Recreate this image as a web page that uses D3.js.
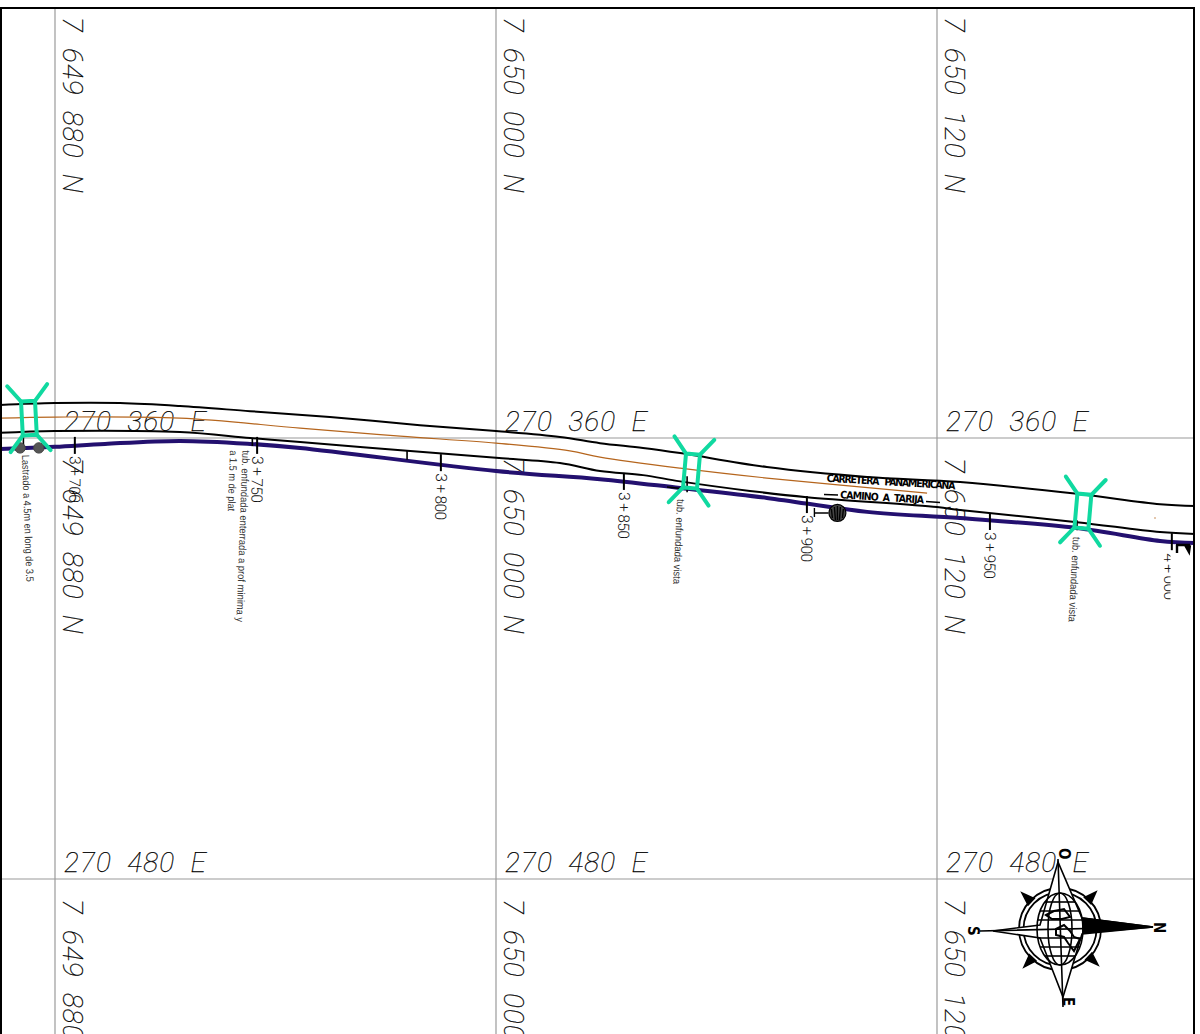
<!DOCTYPE html>
<html>
<head>
<meta charset="utf-8">
<script src="https://cdn.jsdelivr.net/npm/d3@7/dist/d3.min.js"></script>
<style>
  html, body { margin: 0; padding: 0; background: #fff; }
  svg { display: block; }
  text { white-space: pre; }
  .gridLabel { font-family: Roboto, sans-serif; font-weight: 100; font-style: italic; font-size: 28px; fill: #000; stroke: #000; stroke-width: 0.25; }
  .station { font-family: Roboto, sans-serif; font-weight: 300; font-size: 15.5px; fill: #111; }
  .note { font-family: "Liberation Sans", sans-serif; font-size: 10.5px; fill: #333; }
  .roadName { font-family: "DejaVu Sans", sans-serif; font-weight: bold; font-stretch: condensed; font-size: 10.5px; fill: #000; }
  .compassText { font-family: "DejaVu Sans", sans-serif; font-weight: bold; font-stretch: condensed; font-size: 15px; fill: #000; }
</style>
</head>
<body>
<div class="planWrap"></div>
<script>
var width = 1200,
  height = 1034;

// grid, metres from N 7 649 880 / E 270 360
var gridNorth = [0, 120, 240],
  gridEast = [0, 120],
  northLabels = ['7  649  880  N', '7  650  000  N', '7  650  120  N'],
  eastLabels = ['270  360  E', '270  480  E'];

var roadUpper = [[-15, -9], [0, -9.5], [17.7, -9.5], [34, -8.7], [53.1, -7.3], [74.8, -5.7], [99.3, -3.5], [120, -1.9], [137.4, -0.3], [148.3, 1.4], [160, 2.7], [170.1, 4.1], [193.7, 7.9], [221, 10.6], [246.3, 12], [278.1, 15.2], [300.7, 18], [310.2, 18.5]],
  roadLower = [[-15, -1.4], [0, -1.9], [34, -1.6], [53.1, 0], [66.7, 1.1], [95.8, 3.5], [120, 5.4], [137.4, 6.8], [148.3, 9], [160, 10.1], [170.1, 11.8], [189.1, 14.4], [204.6, 16.1], [240, 18.8], [246.3, 19.6], [278.1, 22.9], [300.7, 25.6], [310.2, 26.1]],
  roadCentre = [[-15, -5.4], [0, -5.7], [34, -5.4], [66.7, -2.7], [93.9, -0.5], [120, 1.4], [140.1, 3.5], [148.3, 5.2], [170.1, 8.2], [193.7, 10.9], [237.3, 15]],
  pipeline = [[-15, 3], [0, 2.4], [13.6, 1.6], [34, 0.8], [53.1, 1.6], [66.7, 2.7], [120, 9], [148.3, 11.2], [170.1, 13.6], [193.7, 16.3], [221, 20.1], [246.3, 21.8], [278.1, 24.5], [300.7, 28], [310.2, 28.6]];

// stations
var stationNames = ['3 + 700', '3 + 750', '3 + 800', '3 + 850', '3 + 900', '3 + 950', '4 + 000'],
  stationNorth = [5.4, 55, 105, 154.8, 204.6, 254.4, 303.9],
  stationEast = [-0.3, -0.3, 4.4, 9.5, 15.8, 20.4, 25.9];

// crossings
var crossNorth = [-7.1, 173.2, 279.7],
  crossEast = [-5.4, 9, 19.9],
  crossTilt = [-3, 5, 5];

// annotations
var noteTexts = ['Lastrado a 4.5m en long de 3.5', 'tub. enfundada enterrada a prof minima y', 'a 1.5 m de plat', 'tub. enfundada vista', 'tub. enfundada vista'],
  noteNorth = [-9, 51, 47.6, 169.3, 277],
  noteEast = [4.6, 3.3, 3.3, 16.6, 26.9],
  noteAngle = [88, 92, 92, 92.7, 93],
  noteLength = [127, 172, 61, 85, 85];

var ballastNorth = [-9.5, -4.4],
  ballastEast = [2.7, 2.7];

var svg = d3.select('.planWrap')
  .append('svg')
  .attr('width', width)
  .attr('height', height);

var x = d3.scaleLinear().domain([0, 240]).range([55, 937]);
var y = d3.scaleLinear().domain([0, 120]).range([438, 879]);

var defs = svg.append('defs');
defs.append('clipPath').attr('id', 'cutLabel')
  .append('rect').attr('x', 1150).attr('y', 540).attr('width', 20.5).attr('height', 70);

//grid
svg.selectAll('.gridV')
  .data(gridNorth)
  .enter()
  .append('line')
  .attr('x1', function(d){ return x(d); })
  .attr('x2', function(d){ return x(d); })
  .attr('y1', 8)
  .attr('y2', height)
  .style('stroke', '#9a9a9a')
  .style('stroke-width', 1.2);

svg.selectAll('.gridH')
  .data(gridEast)
  .enter()
  .append('line')
  .attr('x1', 0)
  .attr('x2', 1194)
  .attr('y1', function(d){ return y(d); })
  .attr('y2', function(d){ return y(d); })
  .style('stroke', '#9a9a9a')
  .style('stroke-width', 1.2);

//grid labels
gridNorth.forEach(function(n, i){
  [-120, 0, 120].forEach(function(e){
    svg.append('text')
      .attr('class', 'gridLabel')
      .attr('transform', 'translate(' + (x(n) + 8) + ',' + (y(e) + 20) + ') rotate(90)')
      .attr('textLength', 176)
      .text(northLabels[i]);
  });
  gridEast.forEach(function(e, j){
    svg.append('text')
      .attr('class', 'gridLabel')
      .attr('x', x(n) + 9)
      .attr('y', y(e) - 7)
      .attr('textLength', 142)
      .text(eastLabels[j]);
  });
});

//road lines
var line = d3.line()
  .x(function(d){ return x(d[0]); })
  .y(function(d){ return y(d[1]); })
  .curve(d3.curveCatmullRom);

function drawLine(data, color, w){
  svg.append('path')
    .attr('d', line(data))
    .style('fill', 'none')
    .style('stroke', color)
    .style('stroke-width', w);
}

drawLine(roadCentre, '#b5651d', 1.2);
drawLine(roadUpper, '#000', 2);
drawLine(roadLower, '#000', 2);
drawLine(pipeline, '#23106f', 4);

//stations
stationNames.forEach(function(name, i){
  var sx = x(stationNorth[i]),
    sy = y(stationEast[i]);
  svg.append('line')
    .attr('x1', sx).attr('x2', sx)
    .attr('y1', sy).attr('y2', sy + 17)
    .style('stroke', '#000')
    .style('stroke-width', 2);
  // last station label is half cut in the plan
  if(i == 6){
    svg.append('g')
      .attr('clip-path', 'url(#cutLabel)')
      .append('text')
      .attr('class', 'station')
      .attr('transform', 'translate(' + (sx - 8) + ',' + (sy + 20) + ') rotate(90)')
      .attr('textLength', 47)
      .text(name);
  } else {
    svg.append('text')
      .attr('class', 'station')
      .attr('transform', 'translate(' + (sx - 5) + ',' + (sy + 19) + ') rotate(91)')
      .attr('textLength', 47)
      .text(name);
  }
});

// extra short ticks beside the crossings
var shortTicks = [[-8.6, -0.8, 12], [53.7, 0, 8], [95.8, 3.5, 9], [172, 10.4, 16], [278.1, 22.4, 10]];
svg.selectAll('.shortTick')
  .data(shortTicks)
  .enter()
  .append('line')
  .attr('x1', function(d){ return x(d[0]); })
  .attr('x2', function(d){ return x(d[0]); })
  .attr('y1', function(d){ return y(d[1]); })
  .attr('y2', function(d){ return y(d[1]) + d[2]; })
  .style('stroke', '#000')
  .style('stroke-width', 1.6);
svg.append('path')
  .attr('d', 'M667,487L686,489')
  .style('stroke', '#000')
  .style('stroke-width', 1.4);

//ballast weights
svg.selectAll('.ballast')
  .data(ballastNorth)
  .enter()
  .append('circle')
  .attr('cx', function(d){ return x(d); })
  .attr('cy', function(d, i){ return y(ballastEast[i]); })
  .attr('r', 5.2)
  .style('fill', '#555')
  .style('stroke', '#444');

//crossings
crossNorth.forEach(function(n, i){
  var g = svg.append('g')
    .attr('transform', 'translate(' + x(n) + ',' + y(crossEast[i]) + ') rotate(' + crossTilt[i] + ')')
    .style('fill', 'none')
    .style('stroke', '#10d9a0')
    .style('stroke-width', 4)
    .style('stroke-linecap', 'round');
  g.append('path').attr('d', 'M-20,-33L-7,-17L7,-17L20,-33');
  g.append('path').attr('d', 'M-20,33L-7,17L7,17L20,33');
  g.append('path').attr('d', 'M-7,-17L-7,17M7,-17L7,17');
});

//notes
noteTexts.forEach(function(t, i){
  svg.append('text')
    .attr('class', 'note')
    .attr('transform', 'translate(' + x(noteNorth[i]) + ',' + y(noteEast[i]) + ') rotate(' + noteAngle[i] + ')')
    .attr('textLength', noteLength[i])
    .attr('lengthAdjust', 'spacingAndGlyphs')
    .text(t);
});

//road names
svg.append('text')
  .attr('class', 'roadName')
  .attr('transform', 'translate(826.5,481.7) rotate(3.4)')
  .attr('textLength', 129)
  .text('CARRETERA   PANAMERICANA');
svg.append('text')
  .attr('class', 'roadName')
  .attr('transform', 'translate(840,498.3) rotate(3.5)')
  .attr('textLength', 84)
  .text('CAMINO  A  TARIJA');
svg.append('path')
  .attr('d', 'M824,494.5L838,495M926,501.5L940,502.5')
  .style('stroke', '#000')
  .style('stroke-width', 1.6);

//valve at 3+900
var valve = svg.append('g')
  .attr('transform', 'translate(' + x(212.9) + ',' + y(20.4) + ')');
valve.append('circle')
  .attr('r', 8.5)
  .style('fill', '#444')
  .style('stroke', '#000')
  .style('stroke-width', 1.2);
valve.append('path')
  .attr('d', 'M-6,-4L-5,5M-3,-6L-2,7M0,-7L0,7M3,-6L2,7M6,-4L5,5M-23,0L-9,0M-23,-5L-23,4')
  .style('stroke', '#000')
  .style('stroke-width', 1.4);

// fragment at the right edge
svg.append('path')
  .attr('d', 'M1176,545L1190,545M1177,545L1177,553M1185,545L1189,552L1190,545')
  .style('stroke', '#000')
  .style('stroke-width', 2.4)
  .style('fill', '#000');
svg.append('circle').attr('cx', 1155).attr('cy', 518).attr('r', 0.7).style('fill', '#b5651d');

//compass
var compass = svg.append('g')
  .attr('transform', 'translate(1060,929)')
  .style('fill', 'none')
  .style('stroke', '#000')
  .style('stroke-width', 1.6);

[41, 36.5].forEach(function(r){
  compass.append('circle').attr('r', r).style('stroke-width', 1.8);
});
[[-38, -36], [36, -37], [-36, 38], [38, 36]].forEach(function(d){
  var a = Math.atan2(d[1], d[0]), b = 0.11;
  compass.append('path')
    .attr('d', 'M' + d + 'L' + [Math.cos(a + b) * 40, Math.sin(a + b) * 40] + 'L' + [Math.cos(a - b) * 40, Math.sin(a - b) * 40] + 'Z')
    .style('fill', '#000');
});
compass.append('path')
  .attr('d', 'M-2,-67L-20,-4L-67,2L-20,9L3,68L22,5L93,-2L22,-11Z')
  .style('fill', '#fff');
compass.append('path')
  .attr('d', 'M23,-11L93,-2L23,4Z')
  .style('fill', '#000');
compass.append('path').attr('d', 'M-2,-70L3,78M-80,2L93,-2');
compass.append('ellipse').attr('rx', 23).attr('ry', 36);
compass.append('ellipse').attr('rx', 12).attr('ry', 36);
[-27, -18, -9, 9, 18, 27].forEach(function(d){
  var w = 23 * Math.sqrt(1 - d * d / (36 * 36));
  compass.append('path').attr('d', 'M' + (-w) + ',' + d + 'L' + w + ',' + d);
});
compass.append('path')
  .attr('d', 'M-14,-14L-6,-18L4,-20L10,-12L2,-10L-8,-10ZM-4,0L4,-4L10,2L14,8L20,10L14,22L8,14L4,8L-4,6Z')
  .style('stroke-width', 2);

[['O', 1059, 848], ['N', 1154, 922], ['S', 968, 926], ['E', 1063, 997]].forEach(function(d){
  svg.append('text')
    .attr('class', 'compassText')
    .attr('transform', 'translate(' + d[1] + ',' + d[2] + ') rotate(90)')
    .text(d[0]);
});

//frame
svg.append('path')
  .attr('d', 'M1,1034L1,8L1194,8L1194,1034')
  .style('fill', 'none')
  .style('stroke', '#000')
  .style('stroke-width', 2);
</script>
</body>
</html>
